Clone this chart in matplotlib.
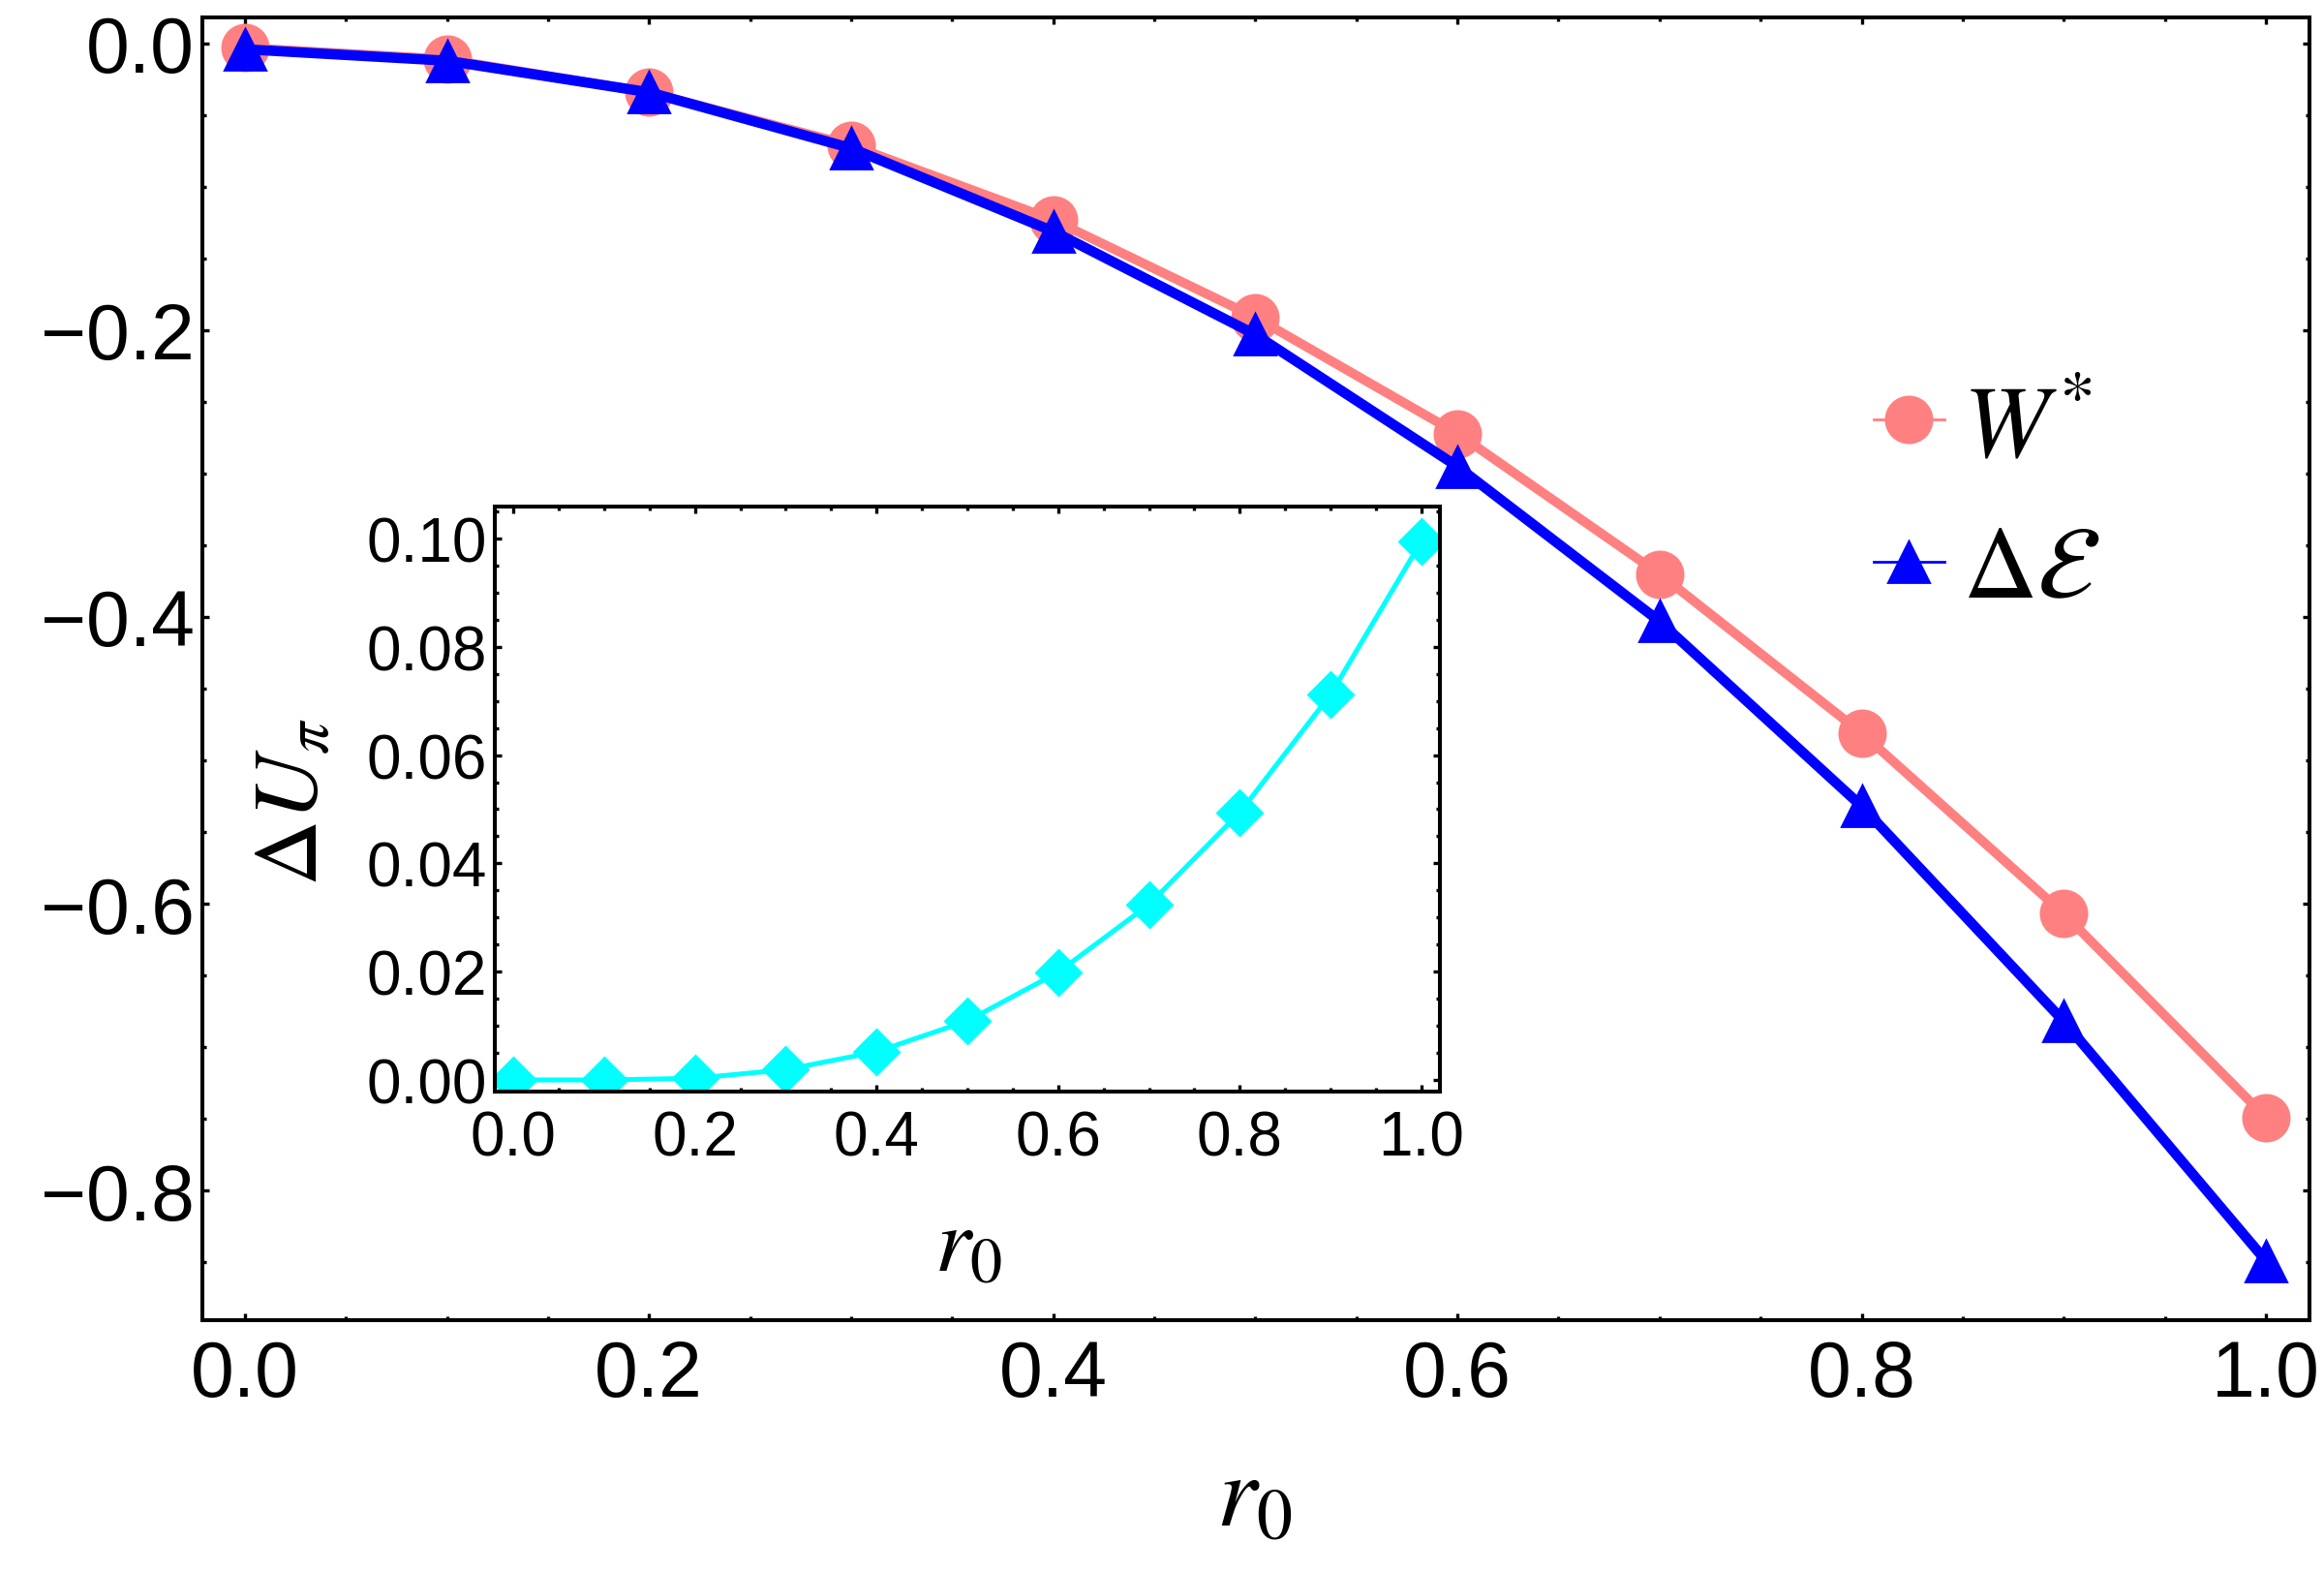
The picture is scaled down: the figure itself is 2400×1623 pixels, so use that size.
import matplotlib
matplotlib.use("Agg")
import matplotlib.pyplot as plt
from matplotlib.lines import Line2D
from matplotlib.ticker import MultipleLocator

plt.rcParams['font.family'] = ['Liberation Sans', 'DejaVu Sans']
plt.rcParams['mathtext.fontset'] = 'stix'

# data
r0 = [0.0, 0.1, 0.2, 0.3, 0.4, 0.5, 0.6, 0.7, 0.8, 0.9, 1.0]
w_star = [-0.003, -0.011, -0.034, -0.071, -0.123, -0.191, -0.272, -0.370, -0.481, -0.607, -0.749]
delta_e = [-0.004, -0.012, -0.034, -0.073, -0.131, -0.203, -0.295, -0.403, -0.532, -0.682, -0.849]
delta_u = [0.0, 0.0, 0.0003, 0.0019, 0.0052, 0.0109, 0.0199, 0.0324, 0.0494, 0.0712, 0.0995]

main_xticks = [0.0, 0.2, 0.4, 0.6, 0.8, 1.0]
main_yticks = [0.0, -0.2, -0.4, -0.6, -0.8]
inset_yticks = [0.0, 0.02, 0.04, 0.06, 0.08, 0.10]

pink = '#FF8080'
blue = '#0000FF'
cyan = '#00FFFF'

W, H = 2400, 1624
fig = plt.figure(figsize=(12, 8.12), dpi=200)


def style_axes(ax, size, xpad, ypad):
    for s in ax.spines.values():
        s.set_linewidth(1.45)
    ax.tick_params(which='both', direction='in', top=True, right=True, width=1.2)
    ax.tick_params(which='major', length=2.6)
    ax.tick_params(which='minor', length=1.3)
    ax.tick_params(axis='x', labelsize=size, pad=xpad)
    ax.tick_params(axis='y', labelsize=size, pad=ypad)


# main axes
ax = fig.add_axes([209 / W, 1 - 1364 / H, (2385 - 209) / W, (1364 - 19) / H])
ax.plot(r0, w_star, color=pink, lw=3.5, marker='o', ms=17, mec=pink, mfc=pink)
ax.plot(r0, delta_e, color=blue, lw=3.8, marker='^', ms=15, mec=blue, mfc=blue)
ax.set_xlim(-0.021, 1.0216)
ax.set_ylim(-0.8905, 0.0182)
ax.set_xticks(main_xticks)
ax.set_xticklabels([f'{t:.1f}' for t in main_xticks])
ax.set_yticks(main_yticks)
ax.set_yticklabels([f'{t:.1f}'.replace('-', '\u2212') for t in main_yticks])
ax.xaxis.set_minor_locator(MultipleLocator(0.05))
ax.yaxis.set_minor_locator(MultipleLocator(0.05))
style_axes(ax, 29, 7, 3)

fig.text(1295 / W, 1 - 1575 / H, r'$r_0$', fontsize=38, ha='center', va='baseline')

handles = [
    Line2D([], [], color=pink, lw=1.0, marker='o', ms=17, mec=pink, mfc=pink),
    Line2D([], [], color=blue, lw=1.0, marker='^', ms=15, mec=blue, mfc=blue),
]
ax.legend(handles, [r'$W^{*}$', r'$\Delta\mathcal{E}$'], loc='center left',
          bbox_to_anchor=(1935 / W, 1 - 517 / H), bbox_transform=fig.transFigure,
          frameon=False, fontsize=38, handlelength=0.69, handletextpad=0.18,
          labelspacing=0.45, borderpad=0, borderaxespad=0)

# inset
axi = fig.add_axes([511 / W, 1 - 1128 / H, (1487 - 511) / W, (1128 - 524) / H])
axi.plot(r0, delta_u, color=cyan, lw=1.8, marker='D', ms=11.5, mec=cyan, mfc=cyan)
axi.set_xlim(-0.0203, 1.0203)
axi.set_ylim(-0.00215, 0.1059)
axi.set_xticks(main_xticks)
axi.set_xticklabels([f'{t:.1f}' for t in main_xticks])
axi.set_yticks(inset_yticks)
axi.set_yticklabels([f'{t:.2f}' for t in inset_yticks])
axi.xaxis.set_minor_locator(MultipleLocator(0.05))
axi.yaxis.set_minor_locator(MultipleLocator(0.005))
style_axes(axi, 23, 6.5, 3)

fig.text(1000 / W, 1 - 1312 / H, r'$r_0$', fontsize=34, ha='center', va='baseline')
fig.text(327 / W, 1 - 828 / H, r'$\Delta U_\pi$', fontsize=34, ha='center',
         va='baseline', rotation=90, rotation_mode='anchor')

fig.savefig('out.png', dpi=200)
